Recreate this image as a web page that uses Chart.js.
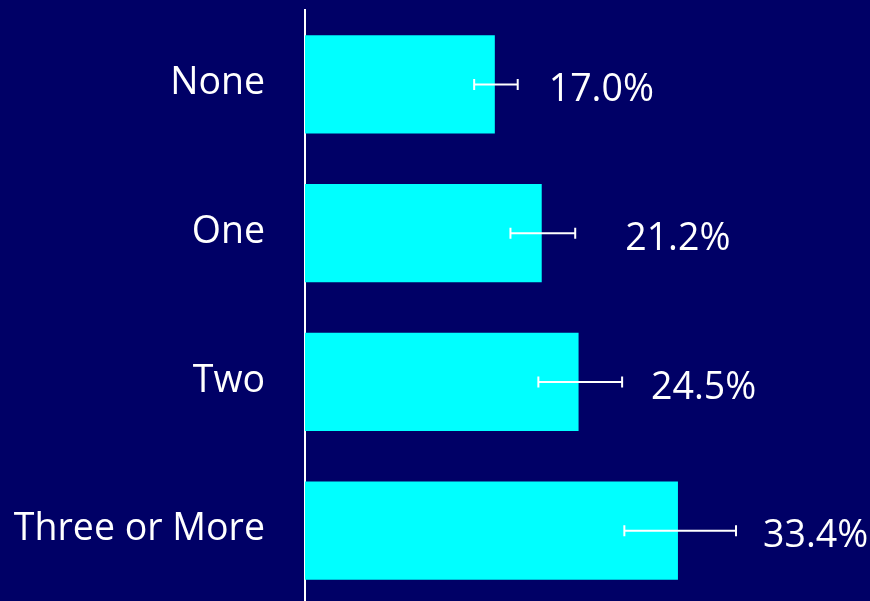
<!DOCTYPE html>
<html>
<head>
<meta charset="utf-8">
<script src="https://cdn.jsdelivr.net/npm/chart.js@4/dist/chart.umd.min.js"></script>
<style>
html,body{margin:0;padding:0;background:#000066;overflow:hidden;}
#wrap{width:870px;height:605px;}
</style>
</head>
<body>
<div id="wrap"><canvas id="c" width="870" height="605"></canvas></div>
<script>
const categories = ["None", "One", "Two", "Three or More"];
const values = [17.0, 21.2, 24.5, 33.4];
const errLow = [15.15, 18.4, 20.9, 28.6];
const errHigh = [19.05, 24.2, 28.4, 38.6];
const valueLabels = ["17.0%", "21.2%", "24.5%", "33.4%"];

const FONT = "'Open Sans', Lato, sans-serif";

const errorBarPlugin = {
  id: 'errorBars',
  afterDatasetsDraw(chart, args, opts) {
    const ctx = chart.ctx;
    const xs = chart.scales.x, ys = chart.scales.y;
    ctx.save();
    ctx.strokeStyle = '#ffffff';
    ctx.lineWidth = 2;
    categories.forEach((c, i) => {
      const y = ys.getPixelForValue(i);
      const x1 = xs.getPixelForValue(errLow[i]);
      const x2 = xs.getPixelForValue(errHigh[i]);
      ctx.beginPath();
      ctx.moveTo(x1, y); ctx.lineTo(x2, y);
      ctx.moveTo(x1, y - opts.cap); ctx.lineTo(x1, y + opts.cap);
      ctx.moveTo(x2, y - opts.cap); ctx.lineTo(x2, y + opts.cap);
      ctx.stroke();
      ctx.fillStyle = '#ffffff';
      ctx.font = opts.fontSize + 'px ' + FONT;
      ctx.textBaseline = 'middle';
      // value label
      ctx.textAlign = 'left';
      ctx.fillText(valueLabels[i], x2 + opts.gap + opts.nudge[i], y + opts.dy);
      // category label
      ctx.textAlign = 'right';
      ctx.fillText(c, chart.chartArea.left - opts.catPad, y + opts.catDy);
    });
    ctx.restore();
  }
};

new Chart(document.getElementById('c'), {
  type: 'bar',
  data: {
    labels: categories,
    datasets: [{
      data: values,
      backgroundColor: '#00ffff',
      borderWidth: 0,
      categoryPercentage: 1.0,
      barPercentage: 0.66
    }]
  },
  options: {
    indexAxis: 'y',
    responsive: false,
    animation: false,
    events: [],
    layout: { padding: { top: 10, bottom: 0, left: 0, right: 0 } },
    plugins: {
      legend: { display: false },
      tooltip: { enabled: false },
      errorBars: { cap: 5.5, gap: 31, nudge: [0, 19, -2, -4], dy: 6, catDy: -1, catPad: 40, fontSize: 37.5 }
    },
    scales: {
      x: {
        min: 0, max: 50.6,
        display: false
      },
      y: {
        afterFit(scale) { scale.width = 305; scale.paddingTop = 0; scale.paddingBottom = 0; },
        grid: { display: false, drawTicks: false },
        border: { display: true, color: '#ffffff', width: 2 },
        ticks: { display: false }
      }
    }
  },
  plugins: [errorBarPlugin]
});
</script>
</body>
</html>
